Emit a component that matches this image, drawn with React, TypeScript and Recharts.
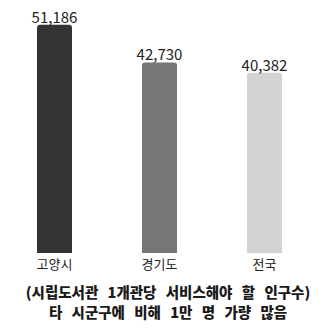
import React from 'react';
import { BarChart, Bar, XAxis, YAxis, Cell, LabelList } from 'recharts';

const categories = ['고양시', '경기도', '전국'];
const values = [51186, 42730, 40382];
const colors = ['#333333', '#767676', '#d3d3d3'];
const captionLines = ['(시립도서관 1개관당 서비스해야 할 인구수)', '타 시군구에 비해 1만 명 가량 많음'];

const data = categories.map((name, i) => ({ name, value: values[i] }));
const FONT = '"Noto Sans CJK KR", "Noto Sans", sans-serif';

export default function App() {
  return (
    <div style={{ position: 'absolute', left: 0, top: 0, width: 327, height: 330, background: '#fff', fontFamily: FONT }}>
      <BarChart width={327} height={280} data={data} margin={{ top: 9, right: 10, left: 2, bottom: 0 }}>
        <XAxis
          dataKey="name"
          axisLine={false}
          tickLine={false}
          height={27}
          tickMargin={1}
          tick={{ fontSize: 13, fill: '#222', fontFamily: FONT }}
          interval={0}
        />
        <YAxis hide domain={[0, 54700]} />
        <Bar dataKey="value" barSize={35} radius={[3, 3, 0, 0]} isAnimationActive={false}>
          {data.map((d, i) => (
            <Cell key={d.name} fill={colors[i]} />
          ))}
          <LabelList
            dataKey="value"
            position="top"
            offset={2}
            formatter={(v: number) => v.toLocaleString('en-US')}
            style={{ fontSize: 15, fill: '#222', fontFamily: FONT }}
          />
        </Bar>
      </BarChart>
      <div style={{ position: 'absolute', left: 0, top: 282, width: 336, textAlign: 'center', fontWeight: 900, fontSize: 14.5, lineHeight: '20px', wordSpacing: 6, color: '#1a1a1a' }}>
        {captionLines.map((l) => (
          <div key={l}>{l}</div>
        ))}
      </div>
    </div>
  );
}
